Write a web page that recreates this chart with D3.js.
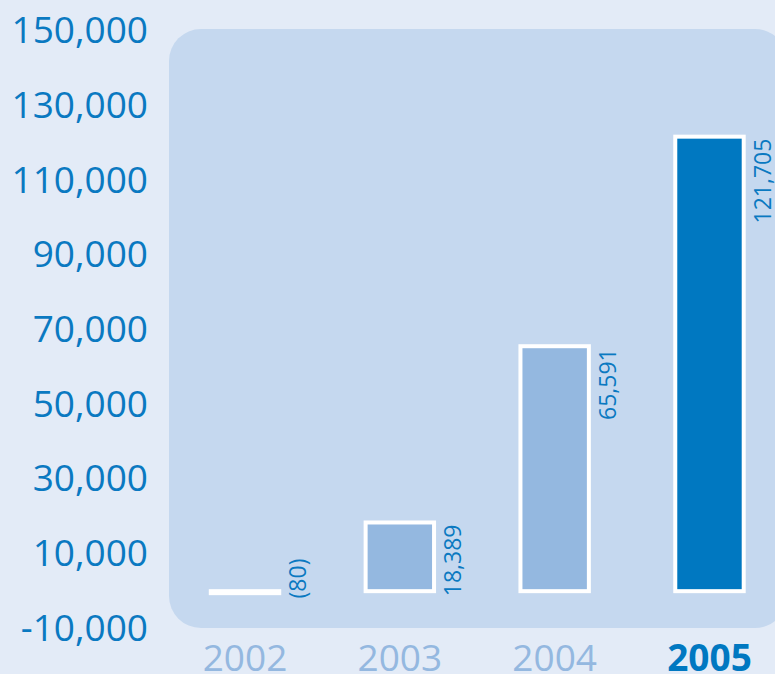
<!DOCTYPE html>
<html>
<head>
<meta charset="utf-8">
<script src="https://cdn.jsdelivr.net/npm/d3@7"></script>
<style>
  html, body { margin: 0; padding: 0; background: #e3ebf7; }
  svg { display: block; }
  text { font-family: "Open Sans", "Noto Sans", sans-serif; }
</style>
</head>
<body>
<svg id="chart" width="775" height="674"></svg>
<script>
const years = ["2002", "2003", "2004", "2005"];
const values = [-80, 18389, 65591, 121705];
const valueLabels = ["(80)", "18,389", "65,591", "121,705"];
const tickValues = [-10000, 10000, 30000, 50000, 70000, 90000, 110000, 130000, 150000];

const W = 775, H = 674;
const svg = d3.select("#chart");

const TEXT_BLUE = "#0a79c1";
const LIGHT_BLUE = "#94b8e0";
const DARK_BLUE = "#0078c1";

svg.append("rect").attr("x", 0).attr("y", 0).attr("width", W).attr("height", H).attr("fill", "#e3ebf7");

const y = d3.scaleLinear().domain([-10000, 150000]).range([628.5, 31]);
const x = d3.scaleBand().domain(years).range([170, 784.5]).paddingInner(0.558).paddingOuter(0.2635);

// panel
svg.append("rect")
  .attr("x", 169).attr("y", y(150000) - 2)
  .attr("width", 787 - 169).attr("height", y(-10000) - y(150000) + 1.5)
  .attr("rx", 32).attr("ry", 32)
  .attr("fill", "#c5d8ef");

// y axis
const locale = d3.formatLocale({ decimal: ".", thousands: ",", grouping: [3], currency: ["", ""], minus: "-" });
const fmt = locale.format(",");
const yAxis = svg.append("g")
  .attr("transform", "translate(148,0)")
  .call(d3.axisLeft(y).tickValues(tickValues).tickFormat(fmt).tickSize(0).tickPadding(0));
yAxis.select(".domain").remove();
yAxis.selectAll("text")
  .attr("fill", TEXT_BLUE)
  .style("font-size", "37px")
  .style("font-weight", "400")
  .style("font-family", "'Open Sans', 'Noto Sans', sans-serif");

// bars
const lastYear = years[years.length - 1];
svg.append("g").selectAll("rect")
  .data(years)
  .join("rect")
  .attr("x", d => x(d))
  .attr("width", x.bandwidth())
  .attr("y", (d, i) => y(Math.max(0, values[i])))
  .attr("height", (d, i) => Math.max(2, Math.abs(y(values[i]) - y(0))))
  .attr("fill", d => d === lastYear ? DARK_BLUE : LIGHT_BLUE)
  .attr("stroke", "#ffffff")
  .attr("stroke-width", 4);

// value labels (rotated): positive values end at the bar top, negative values start at the bar bottom
svg.append("g").selectAll("text")
  .data(years)
  .join("text")
  .attr("transform", (d, i) => {
    const bx = x(d) + x.bandwidth() + 27;
    const by = values[i] >= 0 ? y(values[i]) + 2 : y(values[i]) + 7;
    return `translate(${bx},${by}) rotate(-90)`;
  })
  .attr("text-anchor", (d, i) => values[i] >= 0 ? "end" : "start")
  .attr("fill", TEXT_BLUE)
  .style("font-size", "23px")
  .style("font-weight", "400")
  .text((d, i) => valueLabels[i]);

// category labels
svg.append("g").selectAll("text")
  .data(years)
  .join("text")
  .attr("x", d => x(d) + x.bandwidth() / 2)
  .attr("y", 671)
  .attr("text-anchor", "middle")
  .attr("fill", d => d === lastYear ? DARK_BLUE : LIGHT_BLUE)
  .style("font-size", "37px")
  .style("font-weight", d => d === lastYear ? "700" : "400")
  .text(d => d);
</script>
</body>
</html>
